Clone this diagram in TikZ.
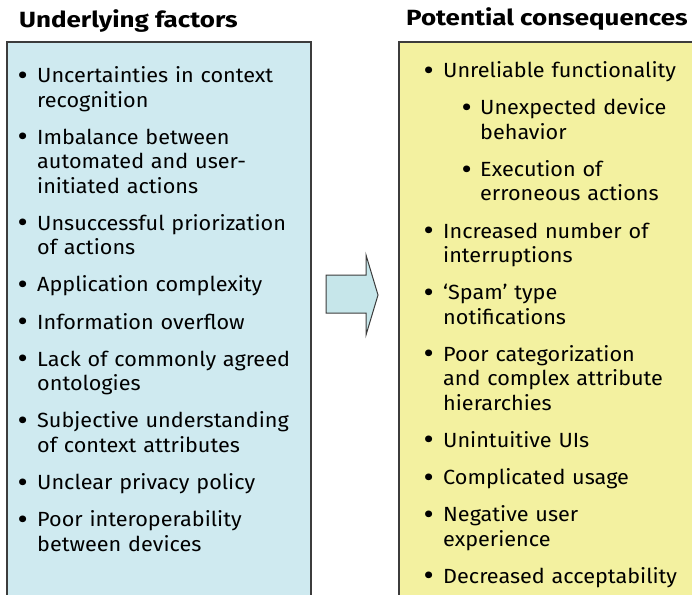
\documentclass[tikz,border=0pt]{standalone}
\usepackage{fontspec}
\setmainfont{Fira Sans}[FakeStretch=1.055]
\newfontfamily\headfont{Fira Sans}[FakeStretch=1.18]
\usepackage{enumitem}
\definecolor{factorfill}{HTML}{CFEAF0}
\definecolor{consfill}{HTML}{F3F1A0}
\definecolor{arrowfill}{HTML}{C6E6EA}
\definecolor{panelline}{HTML}{3C3C3C}
\newcommand{\dotmark}{\makebox[7pt][c]{\raisebox{-2.6pt}{\scalebox{1.45}{\textbullet}}}}
\setlist[itemize]{label=\dotmark, leftmargin=18pt, labelwidth=7pt, labelsep=11pt, align=left,
  topsep=0pt, partopsep=0pt, parsep=0pt, itemsep=12.8pt}
\tikzset{
  panel/.style={draw=panelline, line width=1.3pt},
  heading/.style={anchor=base west, inner sep=0pt, font=\headfont\bfseries\fontsize{22}{26}\selectfont},
  itemlist/.style={anchor=north west, inner sep=0pt, text width=#1, align=left,
    font=\fontsize{20.5}{24.4}\selectfont},
}

\begin{document}
\begin{tikzpicture}[x=1pt, y=-1pt]
\useasboundingbox (0,0) rectangle (692,594);
\clip (0,0) rectangle (692,594);

% the two panels run off the page
\draw[panel, fill=factorfill] (7,42) rectangle (311,620);
\draw[panel, fill=consfill] (399,42) rectangle (720,620);

\node[heading] (factors) at (19,28) {Underlying factors};
\node[heading] (consequences) at (406,26) {Potential consequences};

\node[itemlist=285pt] (factorlist) at (19,58) {%
\begin{itemize}
\item Uncertainties in context\\recognition
\item Imbalance between\\automated and user-\\initiated actions
\item Unsuccessful priorization\\of actions
\item Application complexity
\item Information overflow
\item Lack of commonly agreed\\ontologies
\item Subjective understanding\\of context attributes
\item Unclear privacy policy
\item Poor interoperability\\between devices
\end{itemize}};

\node[itemlist=275pt] (conslist) at (425,53) {%
\begin{itemize}
\item Unreliable functionality
  \begin{itemize}[leftmargin=37pt, labelsep=10pt, topsep=12.8pt]
  \item Unexpected device\\behavior
  \item Execution of\\erroneous actions
  \end{itemize}
\item Increased number of\\interruptions
\item `Spam' type\\notifications
\item Poor categorization\\and complex attribute\\hierarchies
\item Unintuitive UIs
\item Complicated usage
\item Negative user\\experience
\item Decreased acceptability
\end{itemize}};

% block arrow between the panels
\draw[panel, line width=1pt, fill=arrowfill] (326,275) -- (366,275) -- (366,255) -- (378,295)
  -- (366,335) -- (366,313) -- (326,313) -- cycle;
\end{tikzpicture}
\end{document}
